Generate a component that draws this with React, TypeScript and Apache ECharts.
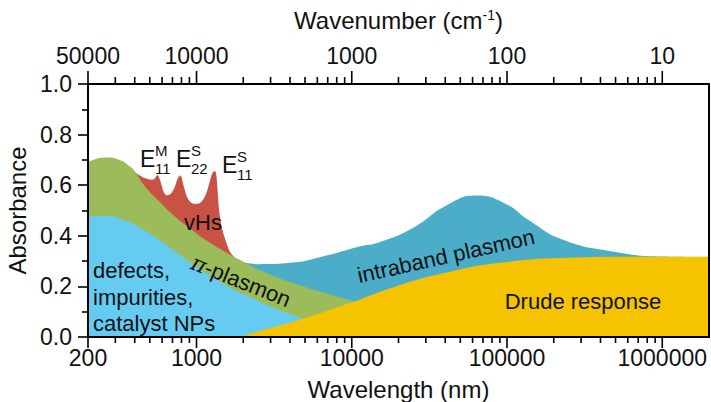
import React, { useEffect, useRef } from 'react';
import * as echarts from 'echarts';

// ---------------- data (wavelength in nm, absorbance) ----------------
const DEFECTS_NM = [200, 270, 330, 440, 570, 740, 960, 1210, 1600, 2000, 3300, 5300, 8300, 13000];
const DEFECTS_ABS = [0.477, 0.478, 0.465, 0.43, 0.385, 0.335, 0.285, 0.245, 0.2, 0.17, 0.11, 0.066, 0.032, 0.005];

const PI_NM = [200, 256, 319, 370, 400, 462, 560, 722, 932, 1178, 1513, 1890, 2820, 4610, 7530, 10740, 20000, 40000];
const PI_ABS = [0.69, 0.709, 0.7, 0.676, 0.655, 0.598, 0.543, 0.477, 0.424, 0.378, 0.338, 0.305, 0.253, 0.205, 0.165, 0.138, 0.09, 0.04];

const VHS_NM = [398, 462, 513, 536, 561, 586, 613, 641, 680, 721, 754, 788, 824, 874, 942, 1015, 1093, 1159, 1212, 1267, 1315, 1344, 1399, 1448, 1514, 1630, 1756, 1890];
const VHS_ABS = [0.652, 0.628, 0.622, 0.625, 0.64, 0.615, 0.575, 0.56, 0.565, 0.59, 0.625, 0.638, 0.6, 0.55, 0.528, 0.527, 0.54, 0.57, 0.61, 0.648, 0.656, 0.635, 0.5, 0.44, 0.395, 0.34, 0.315, 0.305];

const INTRA_NM = [1800, 2540, 4150, 6870, 11200, 15070, 24600, 40700, 63400, 98900, 139000, 227000, 477000, 1000000, 2000000];
const INTRA_ABS = [0.3, 0.288, 0.294, 0.322, 0.358, 0.375, 0.43, 0.52, 0.559, 0.525, 0.46, 0.385, 0.338, 0.318, 0.316];

const DRUDE_NM = [2000, 2100, 4610, 9700, 20300, 42800, 90000, 243000, 640000, 2000000];
const DRUDE_ABS = [0.0, 0.008, 0.068, 0.134, 0.205, 0.258, 0.293, 0.313, 0.317, 0.317];

// ---------------- axes ----------------
const X_MIN = 200;
const X_MAX = 2000000;
const MAJOR_TICKS = [200, 1000, 10000, 100000, 1000000];
const BOTTOM_LABELS = ['200', '1000', '10000', '100000', '1000000'];
const TOP_LABELS = ['50000', '10000', '1000', '100', '10'];
const DECADES = [100, 1000, 10000, 100000, 1000000];
const MINOR_MULTIPLIERS = [2, 3, 4, 5, 6, 7, 8, 9];
const MINOR_TICKS: number[] = [];
DECADES.forEach((d) => MINOR_MULTIPLIERS.forEach((m) => {
  const v = d * m;
  if (v > X_MIN && v < X_MAX) MINOR_TICKS.push(v);
}));

const COLORS = {
  defects: '#66CBF1',
  pi: '#9CBB5A',
  vhs: '#C85244',
  intra: '#4BADC8',
  drude: '#F5C300',
};

const FONT = '"Liberation Sans", Arial, Helvetica, sans-serif';
const INK = '#111';

function pairs(xs: number[], ys: number[]) {
  return xs.map((x, i) => [x, ys[i]]);
}

function labelFor(v: number, labels: string[]) {
  for (let i = 0; i < MAJOR_TICKS.length; i++) {
    if (Math.abs(Math.log10(v) - Math.log10(MAJOR_TICKS[i])) < 1e-6) return labels[i];
  }
  return '';
}

function area(name: string, xs: number[], ys: number[], color: string, smooth: number) {
  return {
    type: 'line',
    name,
    data: pairs(xs, ys),
    xAxisIndex: 0,
    yAxisIndex: 0,
    smooth,
    symbol: 'none',
    showSymbol: false,
    silent: true,
    lineStyle: { width: 0, opacity: 0 },
    areaStyle: { color, opacity: 1 },
    z: 2,
  };
}

function logAxis(position: 'top' | 'bottom', labels: string[], extra: any = {}) {
  return {
    type: 'log',
    logBase: 10,
    min: X_MIN,
    max: X_MAX,
    position,
    z: 10,
    axisLine: { show: true, onZero: false, lineStyle: { color: '#000', width: 2 } },
    axisTick: { show: false },
    minorTick: { show: false },
    splitLine: { show: false },
    axisLabel: {
      show: true,
      customValues: MAJOR_TICKS,
      formatter: (v: number) => labelFor(v, labels),
      fontSize: 23,
      fontFamily: FONT,
      color: INK,
      margin: position === 'bottom' ? 9 : 17,
    },
    ...extra,
  };
}

function txt(text: string, x: number, y: number, size: number, extra: any = {}, styleExtra: any = {}) {
  return {
    type: 'text',
    x,
    y,
    z: 50,
    silent: true,
    ...extra,
    style: {
      text,
      fontSize: size,
      fontFamily: FONT,
      fill: INK,
      align: 'left',
      verticalAlign: 'middle',
      ...styleExtra,
    },
  };
}

// tick marks of the log axes, placed through the axis scale
const TICK_DATA = [
  ...MAJOR_TICKS.map((v) => [v, 1]),
  ...MINOR_TICKS.map((v) => [v, 0]),
];

export default function App() {
  const ref = useRef<HTMLDivElement>(null);

  useEffect(() => {
    if (!ref.current) return;
    const chart = echarts.init(ref.current, null, { renderer: 'svg' });

    const option: any = {
      animation: false,
      backgroundColor: '#fff',
      grid: { left: 88, right: 2, top: 84, bottom: 65, containLabel: false, outerBoundsMode: 'none' },
      xAxis: [
        logAxis('bottom', BOTTOM_LABELS, {
          name: 'Wavelength (nm)',
          nameLocation: 'middle',
          nameGap: 40,
          nameTextStyle: { fontSize: 24, fontFamily: FONT, color: INK },
        }),
        logAxis('top', TOP_LABELS, {
          name: 'Wavenumber (cm{sup|-1})',
          nameLocation: 'middle',
          nameGap: 52,
          nameTextStyle: {
            fontSize: 24,
            fontFamily: FONT,
            color: INK,
            rich: { sup: { fontSize: 14, fontFamily: FONT, color: INK, verticalAlign: 'top', lineHeight: 14 } },
          },
        }),
      ],
      yAxis: [
        {
          type: 'value',
          min: 0,
          max: 1,
          interval: 0.2,
          position: 'left',
          z: 10,
          axisLine: { show: true, onZero: false, lineStyle: { color: '#000', width: 2 } },
          axisTick: { show: true, inside: false, length: 10, lineStyle: { color: '#000', width: 1.6 } },
          minorTick: { show: true, splitNumber: 2, length: 6, lineStyle: { color: '#000', width: 1.6 } },
          splitLine: { show: false },
          axisLabel: {
            formatter: (v: number) => v.toFixed(1),
            fontSize: 23,
            fontFamily: FONT,
            color: INK,
            margin: 16,
          },
          name: 'Absorbance',
          nameLocation: 'middle',
          nameGap: 57,
          nameTextStyle: { fontSize: 24, fontFamily: FONT, color: INK },
        },
        {
          type: 'value',
          min: 0,
          max: 1,
          position: 'right',
          z: 10,
          axisLine: { show: true, onZero: false, lineStyle: { color: '#000', width: 2 } },
          axisTick: { show: false },
          axisLabel: { show: false },
          splitLine: { show: false },
        },
      ],
      series: [
        area('vHs', VHS_NM, VHS_ABS, COLORS.vhs, 0.3),
        area('intraband plasmon', INTRA_NM, INTRA_ABS, COLORS.intra, 0.5),
        area('π-plasmon', PI_NM, PI_ABS, COLORS.pi, 0.5),
        area('defects, impurities, catalyst NPs', DEFECTS_NM, DEFECTS_ABS, COLORS.defects, 0.5),
        area('Drude response', DRUDE_NM, DRUDE_ABS, COLORS.drude, 0.5),
        {
          type: 'custom',
          name: 'x ticks',
          xAxisIndex: 0,
          yAxisIndex: 0,
          clip: false,
          silent: true,
          z: 20,
          data: TICK_DATA,
          renderItem: (_params: any, api: any) => {
            const v = api.value(0);
            const major = api.value(1) === 1;
            const pb = api.coord([v, 0]);
            const pt = api.coord([v, 1]);
            const lb = major ? 11 : 6;
            const lt = major ? 13 : 7;
            return {
              type: 'group',
              children: [
                { type: 'line', shape: { x1: pb[0], y1: pb[1], x2: pb[0], y2: pb[1] + lb }, style: { stroke: '#000', lineWidth: 1.6 } },
                { type: 'line', shape: { x1: pt[0], y1: pt[1], x2: pt[0], y2: pt[1] - lt }, style: { stroke: '#000', lineWidth: 1.6 } },
              ],
            };
          },
        },
      ],
      graphic: [
        txt('defects,\nimpurities,\ncatalyst NPs', 93, 297, 22, {}, { lineHeight: 26.5 }),
        txt('vHs', 203, 222, 22, {}, { align: 'center' }),
        txt('{pi|π}-plasmon', 241, 281, 22, { rotation: -0.38 }, {
          align: 'center',
          rich: { pi: { fontFamily: '"DejaVu Serif", serif', fontStyle: 'italic', fontSize: 22, fill: INK } },
        }),
        txt('intraband plasmon', 446, 256, 22, { rotation: 0.22 }, { align: 'center' }),
        txt('Drude response', 583, 301, 22, {}, { align: 'center' }),
        // E11^M
        txt('E', 140, 159, 23),
        txt('M', 155, 150, 15),
        txt('11', 155, 168, 15),
        // E22^S
        txt('E', 176, 159, 23),
        txt('S', 191, 150, 15),
        txt('22', 191, 168, 15),
        // E11^S
        txt('E', 222, 165, 23),
        txt('S', 237, 156, 15),
        txt('11', 237, 174, 15),
      ],
    };

    chart.setOption(option);
    return () => chart.dispose();
  }, []);

  return (
    <div
      ref={ref}
      style={{ position: 'fixed', left: 0, top: 0, width: 711, height: 402, background: '#fff' }}
    />
  );
}
